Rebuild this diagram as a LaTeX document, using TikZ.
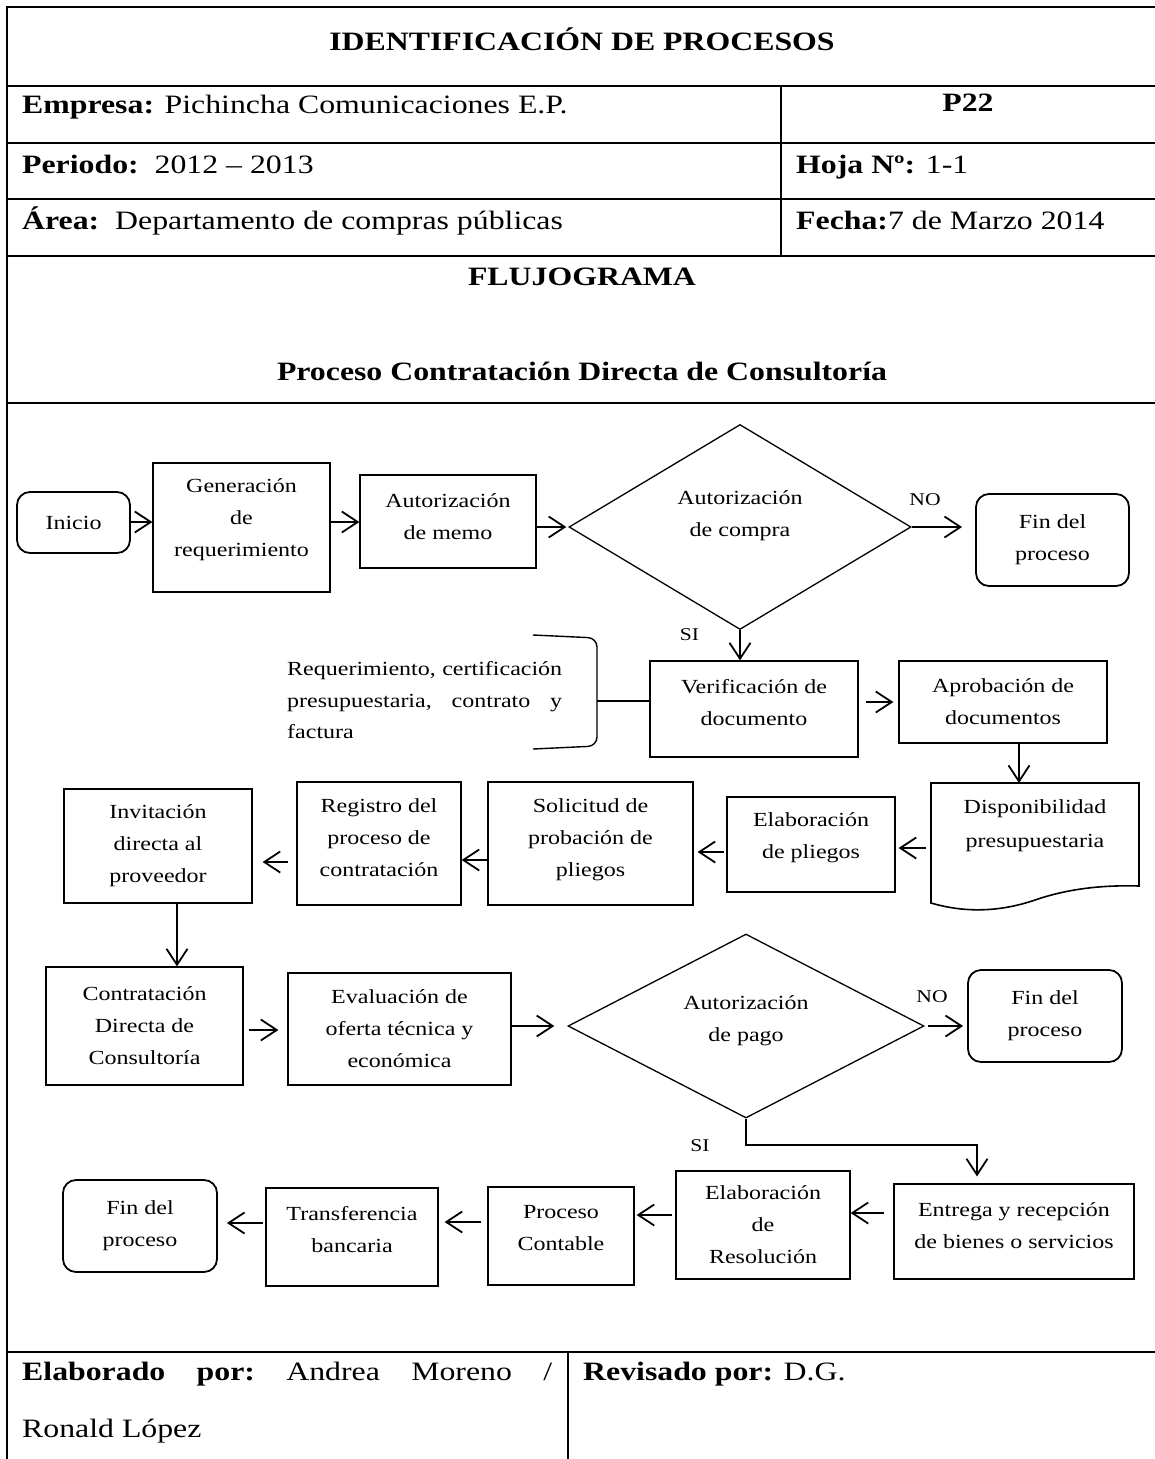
\documentclass[tikz,border=0pt]{standalone}
\usepackage{fontspec}
\setmainfont{Liberation Serif}[FakeStretch=1.2]
\usetikzlibrary{arrows.meta,shapes.geometric,calc}

% font sizes used in the sheet
\newcommand{\tblfnt}{\fontsize{26.5}{32}\selectfont}
\newcommand{\flwfnt}{\fontsize{20}{32}\selectfont}
\newcommand{\lblfnt}{\fontsize{18}{22}\selectfont}
% invisible depth below the last line, lifts the text block inside its box
\newcommand{\lift}[1]{\rule[-#1]{0pt}{#1}}

\tikzset{
  tblline/.style={line width=2.2pt},
  tbltext/.style={font=\tblfnt, inner sep=0pt},
  procbox/.style={draw, line width=1.2pt, align=center, font=\flwfnt, inner sep=0pt},
  termbox/.style={procbox, rounded corners=13pt, line width=1.8pt},
  decision/.style={draw, diamond, line width=1.3pt, inner sep=0pt},
  txt/.style={font=\flwfnt, align=center, inner sep=0pt},
  lbl/.style={font=\lblfnt, inner sep=0pt},
  arr/.style={line width=1.8pt, -{Straight Barb[length=16pt,width=21pt]}},
  plain/.style={line width=1.6pt},
}

\begin{document}
\begin{tikzpicture}[x=1pt,y=-1pt]
\useasboundingbox (0,0) rectangle (1155,1459);

% ---------- form frame ----------
\draw[tblline] (1155,7) -- (7,7) -- (7,1459);
\foreach \yy in {86,143,199,256,403,1352}
  \draw[tblline] (7,\yy) -- (1155,\yy);
\draw[tblline] (781,86) -- (781,256);
\draw[tblline] (568,1352) -- (568,1459);

% ---------- header texts ----------
\node[tbltext, anchor=base] (title) at (582,50) {\bfseries IDENTIFICACIÓN DE PROCESOS};
\node[tbltext, anchor=base west] (empresa) at (22,113) {\textbf{Empresa:} Pichincha Comunicaciones E.P.};
\node[tbltext, anchor=base] (code) at (968,111) {\textbf{P22}};
\node[tbltext, anchor=base west] (periodo) at (22,173) {\textbf{Periodo:}\ \ 2012 – 2013};
\node[tbltext, anchor=base west] (hoja) at (796,173) {\textbf{Hoja Nº:} 1-1};
\node[tbltext, anchor=base west] (area) at (22,229) {\textbf{Área:}\ \ Departamento de compras públicas};
\node[tbltext, anchor=base west] (fecha) at (796,229) {\textbf{Fecha:}7 de Marzo 2014};
\node[tbltext, anchor=base] (fluj) at (582,285) {\textbf{FLUJOGRAMA}};
\node[tbltext, anchor=base] (proctitle) at (582,380) {\textbf{Proceso Contratación Directa de Consultoría}};

% ---------- footer texts ----------
\node[tbltext, anchor=base west] (elaborado) at (22,1380)
  {\hbox to 530pt{\textbf{Elaborado}\hfill\textbf{por:}\hfill Andrea\hfill Moreno\hfill /}};
\node[tbltext, anchor=base west] (ronald) at (22,1437) {Ronald López};
\node[tbltext, anchor=base west] (revisado) at (583,1380) {\textbf{Revisado por:} D.G.};

% ---------- flowchart: first row ----------
\node[termbox, minimum width=113pt, minimum height=61pt] (inicio) at (73.5,522.5) {Inicio};
\node[procbox, minimum width=177pt, minimum height=129pt] (gen) at (241.5,527.5) {Generación\\de\\requerimiento\lift{19pt}};
\node[procbox, minimum width=176pt, minimum height=93pt] (memo) at (448,521.5) {Autorización\\de memo\lift{9pt}};
\node[decision, minimum width=342pt, minimum height=205pt] (d1) at (740,527) {};
\node[txt] (d1t) at (740,516) {Autorización\\de compra};
\node[termbox, minimum width=153pt, minimum height=92pt] (fin1) at (1052.5,540) {Fin del\\proceso};
\node[lbl] (no1) at (925,500) {NO};
\node[lbl] (si1) at (689.5,635) {SI};

% ---------- second row ----------
\node[procbox, minimum width=208pt, minimum height=96pt] (verif) at (754,709) {Verificación de\\documento\lift{14pt}};
\node[procbox, minimum width=208pt, minimum height=82pt] (aprob) at (1003,702) {Aprobación de\\documentos};

% note with bracket
\node[txt, anchor=base west] (req1) at (287,675) {\hbox to 275pt{Requerimiento,\hfill certificación}};
\node[txt, anchor=base west] (req2) at (287,707) {\hbox to 275pt{presupuestaria,\hfill contrato\hfill y}};
\node[txt, anchor=base west] (req3) at (287,738) {factura};
\draw[plain, line width=1.4pt, rounded corners=9pt] (533,635) -- (597,638) -- (597,746) -- (533,749);
\coordinate (brk) at (597,701);

% ---------- third row ----------
\draw[line width=1.6pt] (931,783) -- (1139,783) -- (1139,886)
  .. controls (1105,885) and (1070,888) .. (1035,900)
  .. controls (1000,912) and (965,913) .. (931,903) -- cycle;
\node[txt, font=\fontsize{20}{34}\selectfont] (disp) at (1035,826) {Disponibilidad\\presupuestaria};
\coordinate (dispN) at (1019,783);
\coordinate (dispW) at (931,848);
\node[procbox, minimum width=168pt, minimum height=95pt] (elabp) at (811,844.5) {Elaboración\\de pliegos\lift{17pt}};
\node[procbox, minimum width=205pt, minimum height=123pt] (solic) at (590.5,843.5) {Solicitud de\\probación de\\pliegos\lift{11pt}};
\node[procbox, minimum width=164pt, minimum height=123pt] (regis) at (379,843.5) {Registro del\\proceso de\\contratación\lift{11pt}};
\node[procbox, minimum width=188pt, minimum height=114pt] (invit) at (158,846) {Invitación\\directa al\\proveedor};

% ---------- fourth row ----------
\node[procbox, minimum width=197pt, minimum height=118pt] (contr) at (144.5,1026) {Contratación\\Directa de\\Consultoría};
\node[procbox, minimum width=223pt, minimum height=112pt] (evalu) at (399.5,1029) {Evaluación de\\oferta técnica y\\económica};
\node[decision, minimum width=356pt, minimum height=184pt] (d2) at (746,1026) {};
\node[txt] (d2t) at (746,1021) {Autorización\\de pago};
\node[termbox, minimum width=154pt, minimum height=92pt] (fin2) at (1045,1016) {Fin del\\proceso};
\node[lbl] (no2) at (932,997) {NO};
\node[lbl] (si2) at (700,1146) {SI};

% ---------- fifth row ----------
\node[procbox, minimum width=240pt, minimum height=95pt] (entrega) at (1014,1231.5) {Entrega y recepción\\de bienes o servicios\lift{11pt}};
\node[procbox, minimum width=174pt, minimum height=108pt] (elabr) at (763,1225) {Elaboración\\de\\Resolución};
\node[procbox, minimum width=146pt, minimum height=98pt] (proce) at (561,1236) {Proceso\\Contable\lift{16pt}};
\node[procbox, minimum width=172pt, minimum height=98pt] (trans) at (352,1237) {Transferencia\\bancaria\lift{16pt}};
\node[termbox, minimum width=154pt, minimum height=92pt] (fin3) at (140,1226) {Fin del\\proceso};
\coordinate (siturn) at (977,1145);

% ---------- connectors ----------
\draw[arr] (inicio.east |- 0,522) -- (gen.west |- 0,522);
\draw[arr] (gen.east |- 0,522) -- (memo.west |- 0,522);
\draw[arr, shorten >=2pt] (memo.east |- d1.west) -- (d1.west);
\draw[arr, shorten >=13pt] (d1.east) -- (fin1.west |- d1.east);
\draw[arr] (d1.south) -- (d1.south |- verif.north);
\draw[arr, shorten <=7pt, shorten >=5pt] (verif.east |- 0,702) -- (aprob.west |- 0,702);
\draw[arr] (aprob.south -| dispN) -- (dispN);
\draw[arr, shorten <=5pt, shorten >=3pt] (dispW) -- (elabp.east |- dispW);
\draw[arr, shorten <=2pt, shorten >=4pt] (elabp.west |- 0,852) -- (solic.east |- 0,852);
\draw[arr] (solic.west |- 0,860) -- (regis.east |- 0,860);
\draw[arr, shorten <=8pt, shorten >=10pt] (regis.west |- 0,862) -- (invit.east |- 0,862);
\draw[arr] ([xshift=19pt]invit.south) -- ([xshift=19pt]invit.south |- contr.north);
\draw[arr, shorten <=5pt, shorten >=9pt] (contr.east |- 0,1030) -- (evalu.west |- 0,1030);
\draw[arr, shorten >=13pt] (evalu.east |- d2.west) -- (d2.west);
\draw[arr, shorten <=3pt, shorten >=4pt] (d2.east) -- (fin2.west |- d2.east);
\draw[arr, shorten >=7pt] (d2.south) |- (siturn) -- (siturn |- entrega.north);
\draw[arr, shorten <=9pt] (entrega.west |- 0,1213) -- (elabr.east |- 0,1213);
\draw[arr, shorten <=3pt, shorten >=2pt] (elabr.west |- 0,1215) -- (proce.east |- 0,1215);
\draw[arr, shorten <=6pt, shorten >=6pt] (proce.west |- 0,1222) -- (trans.east |- 0,1222);
\draw[arr, shorten <=2pt, shorten >=9pt] (trans.west |- 0,1223) -- (fin3.east |- 0,1223);
\draw[plain] (brk) -- (verif.west |- brk);
\end{tikzpicture}
\end{document}
